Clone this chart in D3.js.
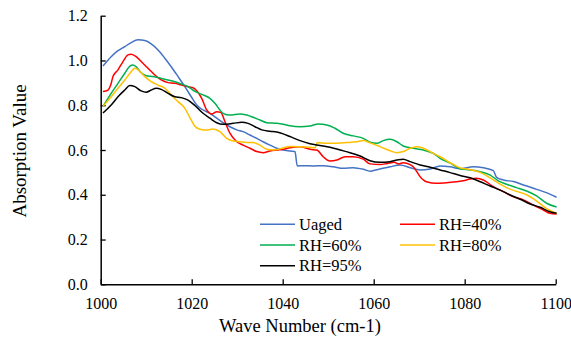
<!DOCTYPE html>
<html>
<head>
<meta charset="utf-8">
<script src="https://cdn.jsdelivr.net/npm/d3@7"></script>
<style>
  html, body { margin: 0; padding: 0; background: #fff; }
  svg { display: block; }
  text { font-family: "Liberation Serif", "Times New Roman", serif; fill: #000; }
</style>
</head>
<body>
<svg id="chart" width="571" height="337"></svg>
<script>
// Absorption spectra, 1000–1100 cm-1, one [wave number, absorption] list per condition
const uaged = [[1000.5,0.975],[1002.3,1.017],[1003.8,1.044],[1005.3,1.062],[1006.7,1.080],[1008.2,1.092],[1009.7,1.089],[1011.1,1.074],[1012.6,1.047],[1014.1,1.010],[1015.5,0.972],[1017.0,0.928],[1018.5,0.883],[1019.9,0.838],[1021.1,0.801],[1022.5,0.779],[1024.0,0.764],[1025.5,0.742],[1026.9,0.722],[1028.4,0.704],[1029.9,0.690],[1031.3,0.682],[1032.8,0.667],[1034.3,0.652],[1035.7,0.637],[1037.2,0.622],[1038.7,0.608],[1040.1,0.600],[1041.6,0.595],[1042.7,0.593],[1043.2,0.529],[1044.5,0.530],[1046.7,0.529],[1048.9,0.530],[1051.1,0.525],[1053.3,0.518],[1055.5,0.521],[1057.7,0.514],[1059.2,0.505],[1060.7,0.512],[1063.6,0.525],[1065.8,0.533],[1068.0,0.521],[1070.2,0.511],[1072.4,0.515],[1074.6,0.529],[1076.8,0.525],[1079.0,0.516],[1081.9,0.525],[1084.1,0.521],[1086.3,0.508],[1087.0,0.478],[1088.5,0.466],[1090.7,0.459],[1092.9,0.444],[1095.1,0.429],[1097.3,0.414],[1098.7,0.403],[1100.2,0.389]];

const rh40 = [[1000.5,0.861],[1001.6,0.868],[1002.2,0.890],[1002.7,0.928],[1003.8,0.958],[1004.9,0.995],[1006.0,1.025],[1006.7,1.028],[1007.8,1.017],[1008.9,0.995],[1010.4,0.965],[1011.9,0.935],[1013.3,0.913],[1014.8,0.901],[1016.3,0.898],[1017.7,0.890],[1019.2,0.883],[1020.3,0.878],[1021.1,0.865],[1022.2,0.831],[1023.3,0.779],[1024.4,0.761],[1025.5,0.771],[1026.4,0.768],[1027.3,0.727],[1028.4,0.675],[1029.9,0.637],[1031.3,0.622],[1032.8,0.608],[1034.3,0.593],[1035.7,0.588],[1037.2,0.596],[1038.7,0.600],[1040.1,0.603],[1041.6,0.610],[1043.8,0.615],[1046.0,0.603],[1047.5,0.600],[1048.9,0.570],[1050.4,0.551],[1051.9,0.555],[1053.7,0.570],[1055.5,0.570],[1057.7,0.559],[1059.2,0.538],[1061.4,0.535],[1063.0,0.540],[1064.5,0.545],[1065.5,0.538],[1066.5,0.543],[1068.0,0.535],[1068.7,0.525],[1070.2,0.481],[1071.6,0.458],[1073.8,0.451],[1076.0,0.454],[1078.2,0.458],[1079.7,0.463],[1081.2,0.470],[1082.6,0.474],[1084.1,0.466],[1086.3,0.436],[1088.5,0.414],[1090.7,0.391],[1092.9,0.377],[1095.1,0.354],[1097.3,0.332],[1098.7,0.317],[1100.2,0.314]];

const rh60 = [[1000.5,0.795],[1002.3,0.853],[1003.8,0.898],[1005.3,0.943],[1006.4,0.975],[1007.1,0.980],[1007.8,0.972],[1008.9,0.945],[1010.0,0.932],[1011.5,0.928],[1013.3,0.920],[1014.8,0.913],[1016.3,0.905],[1017.7,0.895],[1019.2,0.883],[1020.7,0.862],[1022.5,0.846],[1024.0,0.831],[1025.1,0.809],[1026.2,0.779],[1026.9,0.764],[1028.4,0.756],[1030.6,0.761],[1032.1,0.756],[1033.5,0.746],[1035.0,0.734],[1036.5,0.722],[1038.7,0.719],[1040.1,0.715],[1041.6,0.708],[1043.8,0.704],[1046.0,0.707],[1047.8,0.716],[1049.7,0.712],[1051.5,0.697],[1053.3,0.675],[1055.5,0.663],[1057.7,0.652],[1059.2,0.635],[1060.7,0.630],[1062.1,0.642],[1063.6,0.648],[1065.1,0.637],[1066.5,0.618],[1068.7,0.608],[1070.9,0.600],[1073.1,0.585],[1074.6,0.563],[1076.8,0.541],[1079.0,0.516],[1081.2,0.511],[1083.4,0.503],[1085.6,0.488],[1087.4,0.462],[1089.2,0.447],[1091.4,0.432],[1093.6,0.417],[1095.8,0.395],[1098.0,0.362],[1100.2,0.345]];

const rh80 = [[1000.5,0.795],[1002.3,0.838],[1003.8,0.876],[1005.3,0.913],[1006.7,0.950],[1007.5,0.965],[1008.2,0.958],[1009.7,0.928],[1011.1,0.905],[1012.6,0.890],[1014.1,0.876],[1015.5,0.846],[1017.0,0.816],[1018.5,0.786],[1019.6,0.745],[1020.7,0.706],[1021.8,0.693],[1023.3,0.689],[1024.7,0.694],[1026.2,0.682],[1027.7,0.652],[1029.1,0.640],[1030.6,0.637],[1032.1,0.634],[1033.5,0.633],[1035.0,0.622],[1036.5,0.603],[1037.9,0.600],[1039.4,0.605],[1041.6,0.616],[1043.8,0.615],[1046.0,0.612],[1047.1,0.610],[1047.6,0.633],[1049.7,0.630],[1051.9,0.630],[1054.1,0.633],[1056.3,0.637],[1057.7,0.642],[1059.2,0.632],[1061.4,0.615],[1063.6,0.597],[1065.1,0.588],[1066.5,0.593],[1068.0,0.608],[1069.5,0.615],[1070.9,0.608],[1073.1,0.585],[1074.6,0.570],[1076.8,0.543],[1079.0,0.520],[1081.2,0.512],[1083.4,0.500],[1085.6,0.475],[1087.4,0.452],[1089.2,0.432],[1091.4,0.415],[1093.6,0.400],[1095.8,0.372],[1098.0,0.338],[1100.2,0.317]];

const rh95 = [[1000.5,0.765],[1002.3,0.801],[1003.8,0.838],[1005.3,0.868],[1006.4,0.888],[1007.5,0.883],[1008.9,0.864],[1010.0,0.858],[1011.1,0.868],[1012.2,0.876],[1013.3,0.871],[1014.8,0.853],[1016.3,0.838],[1017.7,0.834],[1019.2,0.823],[1020.7,0.799],[1022.5,0.764],[1024.0,0.742],[1025.5,0.722],[1026.9,0.715],[1029.1,0.719],[1031.0,0.724],[1032.4,0.719],[1033.9,0.704],[1035.4,0.690],[1037.2,0.684],[1038.7,0.680],[1040.1,0.672],[1041.6,0.660],[1043.8,0.642],[1046.0,0.628],[1048.2,0.620],[1050.4,0.612],[1052.6,0.600],[1054.8,0.588],[1057.0,0.573],[1059.2,0.552],[1061.4,0.545],[1063.6,0.548],[1065.1,0.555],[1066.5,0.559],[1068.0,0.548],[1070.2,0.533],[1072.4,0.523],[1074.6,0.511],[1076.8,0.499],[1079.0,0.486],[1081.2,0.476],[1083.4,0.458],[1085.6,0.439],[1087.8,0.421],[1090.0,0.399],[1092.2,0.380],[1094.4,0.359],[1096.6,0.344],[1098.7,0.324],[1100.2,0.317]];

const seriesNames = ["Uaged", "RH=40%", "RH=60%", "RH=80%", "RH=95%"];
const seriesColors = ["#4472C4", "#FF0000", "#00B050", "#FFC000", "#000000"];
const xTicks = [1000, 1020, 1040, 1060, 1080, 1100];
const yTicks = [0.0, 0.2, 0.4, 0.6, 0.8, 1.0, 1.2];
const xTitle = "Wave Number (cm-1)";
const yTitle = "Absorption Value";

const svg = d3.select("#chart");
const plot = { left: 100.7, right: 555.7, top: 15.7, bottom: 284.3 };

const x = d3.scaleLinear().domain([1000, 1100]).range([plot.left, plot.right]);
const y = d3.scaleLinear().domain([0, 1.2]).range([plot.bottom, plot.top]);

// Axes with inward ticks
const xAxis = d3.axisBottom(x).tickValues(xTicks).tickSizeInner(-5).tickSizeOuter(0).tickPadding(13).tickFormat(d3.format("d"));
const yAxis = d3.axisLeft(y).tickValues(yTicks).tickSizeInner(-5).tickSizeOuter(0).tickPadding(13).tickFormat(d3.format(".1f"));

const gx = svg.append("g").attr("transform", `translate(0,${plot.bottom})`).call(xAxis);
const gy = svg.append("g").attr("transform", `translate(${plot.left},0)`).call(yAxis);

[gx, gy].forEach(g => {
  g.select(".domain").attr("stroke", "#000").attr("stroke-width", 1.5);
  g.selectAll(".tick line").attr("stroke", "#000").attr("stroke-width", 1.3);
  g.selectAll(".tick text")
    .style("font-family", '"Liberation Serif", "Times New Roman", serif')
    .style("font-size", "16px")
    .attr("fill", "#000");
});
gx.selectAll(".tick text").attr("dy", "0.71em");

// Series lines
const line = d3.line()
  .x(d => x(d[0]))
  .y(d => y(d[1]))
  .curve(d3.curveMonotoneX);

const allSeries = [uaged, rh40, rh60, rh80, rh95];
svg.append("g")
  .selectAll("path")
  .data(allSeries)
  .join("path")
  .attr("d", line)
  .attr("fill", "none")
  .attr("stroke", (d, i) => seriesColors[i])
  .attr("stroke-width", 1.5)
  .attr("stroke-linejoin", "round");

// Axis titles
svg.append("text")
  .attr("x", 300)
  .attr("y", 332)
  .attr("text-anchor", "middle")
  .style("font-size", "18.5px")
  .text(xTitle);

svg.append("text")
  .attr("transform", `translate(26,${(plot.top + plot.bottom) / 2 + 1}) rotate(-90)`)
  .attr("text-anchor", "middle")
  .style("font-size", "19px")
  .text(yTitle);

// Legend: two columns, three rows
const legend = svg.append("g");
const legendCols = [260, 400];
const legendRow0 = 224.3, legendRowGap = 20.7, sampleLen = 35;
seriesNames.forEach((name, i) => {
  const cx = legendCols[i % 2];
  const cy = legendRow0 + Math.floor(i / 2) * legendRowGap;
  legend.append("line")
    .attr("x1", cx).attr("x2", cx + sampleLen)
    .attr("y1", cy).attr("y2", cy)
    .attr("stroke", seriesColors[i])
    .attr("stroke-width", 1.5);
  legend.append("text")
    .attr("x", cx + sampleLen + 4)
    .attr("y", cy + 5.5)
    .style("font-size", "16.5px")
    .text(name);
});
</script>
</body>
</html>
